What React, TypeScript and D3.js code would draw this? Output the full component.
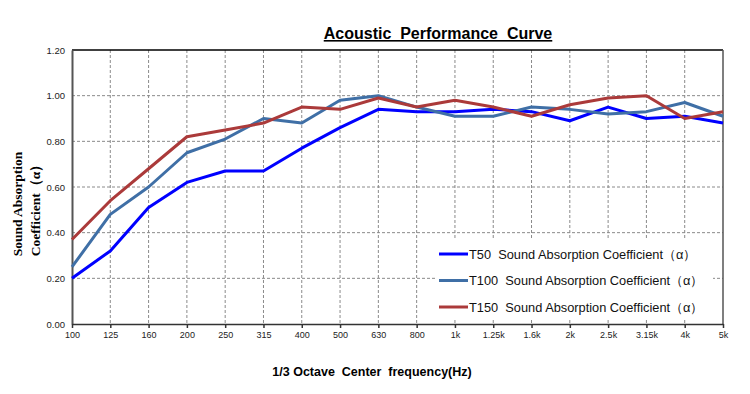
import { useRef, useEffect } from 'react';
import * as d3 from 'd3';

const frequencies = ['100', '125', '160', '200', '250', '315', '400', '500', '630', '800', '1k', '1.25k', '1.6k', '2k', '2.5k', '3.15k', '4k', '5k'];
const t50 = [0.20, 0.32, 0.51, 0.62, 0.67, 0.67, 0.77, 0.86, 0.94, 0.93, 0.93, 0.94, 0.93, 0.89, 0.95, 0.90, 0.91, 0.88];
const t100 = [0.25, 0.48, 0.60, 0.75, 0.81, 0.90, 0.88, 0.98, 1.00, 0.95, 0.91, 0.91, 0.95, 0.94, 0.92, 0.93, 0.97, 0.91];
const t150 = [0.37, 0.54, 0.68, 0.82, 0.85, 0.88, 0.95, 0.94, 0.99, 0.95, 0.98, 0.95, 0.91, 0.96, 0.99, 1.00, 0.90, 0.93];
const yTicks = [0, 0.2, 0.4, 0.6, 0.8, 1.0, 1.2];
const seriesNames = ['T50', 'T100', 'T150'];
const seriesColors = ['#0000ff', '#3f6fa6', '#ab3a3a'];

export default function App() {
    const svgRef = useRef<SVGSVGElement>(null);

    useEffect(() => {
        if (!svgRef.current) return;
        const width = 750;
        const height = 394;
        const margin = { top: 50, right: 27, bottom: 70, left: 72 };

        const svg = d3.select(svgRef.current);
        svg.selectAll('*').remove();
        svg.attr('width', width).attr('height', height);

        svg.append('rect').attr('width', width).attr('height', height).attr('fill', '#fff');

        const x = d3.scalePoint<string>()
            .domain(frequencies)
            .range([margin.left, width - margin.right]);
        const y = d3.scaleLinear()
            .domain([0, 1.2])
            .range([height - margin.bottom, margin.top]);

        // Grid
        svg.append('g')
            .selectAll('line')
            .data(yTicks.slice(1, -1))
            .enter()
            .append('line')
            .attr('x1', margin.left).attr('x2', width - margin.right)
            .attr('y1', d => y(d)).attr('y2', d => y(d))
            .attr('stroke', '#8a8a8a')
            .attr('stroke-dasharray', '3,2');
        svg.append('g')
            .selectAll('line')
            .data(frequencies.slice(1, -1))
            .enter()
            .append('line')
            .attr('x1', d => x(d) ?? 0).attr('x2', d => x(d) ?? 0)
            .attr('y1', y(1.2)).attr('y2', y(0))
            .attr('stroke', '#8a8a8a')
            .attr('stroke-dasharray', '3,2');

        // Frame
        svg.append('line')
            .attr('x1', margin.left).attr('x2', width - margin.right)
            .attr('y1', y(1.2)).attr('y2', y(1.2))
            .attr('stroke', '#000').attr('stroke-width', 1.5);
        svg.append('line')
            .attr('x1', width - margin.right).attr('x2', width - margin.right)
            .attr('y1', y(1.2)).attr('y2', y(0))
            .attr('stroke', '#555').attr('stroke-width', 1.5);

        // Legend background
        const legendX = 435;
        const legendY = 240;
        svg.append('rect')
            .attr('x', legendX).attr('y', legendY)
            .attr('width', 278).attr('height', 78)
            .attr('fill', '#fff');

        // Y axis
        const yAxis = svg.append('g')
            .attr('transform', `translate(${margin.left},0)`)
            .call(d3.axisLeft(y).tickValues(yTicks).tickFormat(d3.format('.2f')).tickSize(0).tickPadding(7));
        yAxis.select('.domain').attr('stroke', '#555').attr('stroke-width', 2);
        yAxis.selectAll('text')
            .attr('fill', '#222')
            .attr('font-size', '9.5px')
            .attr('font-family', 'Liberation Sans, Arial, sans-serif');

        // X axis
        const xAxis = svg.append('g')
            .attr('transform', `translate(0,${y(0)})`)
            .call(d3.axisBottom(x).tickSize(4).tickSizeOuter(0).tickPadding(4));
        xAxis.select('.domain').attr('stroke', '#333').attr('stroke-width', 1.5);
        xAxis.selectAll('.tick line').attr('stroke', '#333').attr('stroke-width', 1.5);
        xAxis.selectAll('text')
            .attr('fill', '#222')
            .attr('font-size', '9px')
            .attr('font-family', 'Liberation Sans Narrow, Liberation Sans, Arial, sans-serif');

        // Lines
        const allSeries = [t50, t100, t150];
        const line = d3.line<number>()
            .x((_, i) => x(frequencies[i]) ?? 0)
            .y(d => y(d));
        allSeries.forEach((s, i) => {
            svg.append('path')
                .datum(s)
                .attr('fill', 'none')
                .attr('stroke', seriesColors[i])
                .attr('stroke-width', 3)
                .attr('stroke-linejoin', 'round')
                .attr('d', line);
        });

        // Legend
        seriesNames.forEach((name, i) => {
            const ly = legendY + 14 + i * 26.5;
            svg.append('line')
                .attr('x1', legendX + 4).attr('x2', legendX + 33)
                .attr('y1', ly).attr('y2', ly)
                .attr('stroke', seriesColors[i])
                .attr('stroke-width', 3);
            svg.append('text')
                .attr('x', legendX + 34)
                .attr('y', ly + 4.5)
                .attr('font-size', '12.8px')
                .attr('font-family', 'Liberation Sans, Arial, sans-serif')
                .attr('fill', '#111')
                .style('white-space', 'pre')
                .text(`${name}  Sound Absorption Coefficient（α）`);
        });

        // Title
        svg.append('text')
            .attr('x', 438)
            .attr('y', 39)
            .attr('text-anchor', 'middle')
            .attr('font-size', '16px')
            .attr('font-weight', 'bold')
            .attr('font-family', 'Liberation Sans, Arial, sans-serif')
            .attr('text-decoration', 'underline')
            .style('white-space', 'pre')
            .text('Acoustic  Performance  Curve');

        // Axis titles
        svg.append('text')
            .attr('x', 372)
            .attr('y', 376)
            .attr('text-anchor', 'middle')
            .attr('font-size', '12.5px')
            .attr('font-weight', 'bold')
            .attr('font-family', 'Liberation Sans Narrow, Liberation Sans, Arial, sans-serif')
            .style('white-space', 'pre')
            .text('1/3 Octave  Center  frequency(Hz)');

        const yTitle = svg.append('g').attr('transform', 'translate(0,204) rotate(-90)');
        yTitle.append('text')
            .attr('x', 0).attr('y', 22)
            .attr('text-anchor', 'middle')
            .attr('font-size', '13.5px')
            .attr('font-weight', 'bold')
            .attr('font-family', 'Liberation Serif, DejaVu Serif, serif')
            .text('Sound Absorption');
        yTitle.append('text')
            .attr('x', -3).attr('y', 40)
            .attr('text-anchor', 'middle')
            .attr('font-size', '13.5px')
            .attr('font-weight', 'bold')
            .attr('font-family', 'Liberation Serif, DejaVu Serif, serif')
            .text('Coefficient（α）');
    }, []);

    return (
        <div style={{ position: 'absolute', left: 0, top: 0 }}>
            <svg ref={svgRef} style={{ display: 'block' }} />
        </div>
    );
}
